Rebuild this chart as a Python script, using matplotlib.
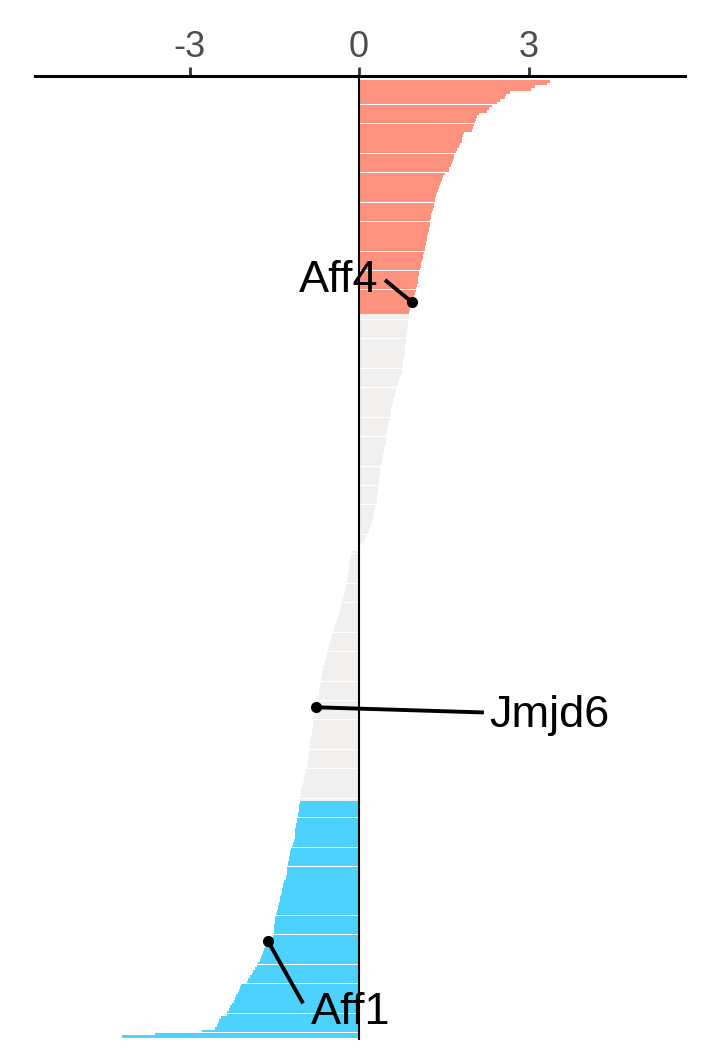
import matplotlib.pyplot as plt
import numpy as np

plt.rcParams['font.family'] = ['Liberation Sans', 'DejaVu Sans']

# sorted scores, top to bottom
up_scores = [
    3.38, 3.33, 3.12, 3.04, 2.67, 2.61, 2.58, 2.50, 2.44, 2.36,
    2.30, 2.26, 2.12, 2.08, 2.07, 2.05, 2.04, 2.02, 2.00, 1.86,
    1.84, 1.83, 1.82, 1.79, 1.77, 1.74, 1.71, 1.69, 1.68, 1.67,
    1.64, 1.62, 1.60, 1.59, 1.52, 1.49, 1.47, 1.45, 1.43, 1.42,
    1.40, 1.38, 1.36, 1.35, 1.34, 1.33, 1.32, 1.31, 1.29, 1.28,
    1.27, 1.26, 1.26, 1.25, 1.24, 1.23, 1.22, 1.21, 1.20, 1.19,
    1.18, 1.17, 1.16, 1.15, 1.14, 1.13, 1.11, 1.10, 1.09, 1.08,
    1.07, 1.06, 1.05, 1.05, 1.04, 1.03, 1.01, 1.00, 0.99, 0.97,
    0.95, 0.93, 0.92, 0.91, 0.90, 0.89,
]
mid_scores = [
    0.88, 0.88, 0.87, 0.87, 0.86, 0.86, 0.85, 0.85, 0.84, 0.83,
    0.83, 0.82, 0.82, 0.81, 0.81, 0.80, 0.79, 0.78, 0.78, 0.77,
    0.76, 0.76, 0.74, 0.72, 0.71, 0.69, 0.67, 0.66, 0.65, 0.64,
    0.63, 0.61, 0.60, 0.58, 0.57, 0.56, 0.56, 0.55, 0.54, 0.53,
    0.52, 0.51, 0.49, 0.49, 0.48, 0.48, 0.47, 0.47, 0.46, 0.45,
    0.44, 0.43, 0.42, 0.41, 0.40, 0.39, 0.38, 0.37, 0.37, 0.36,
    0.36, 0.35, 0.35, 0.34, 0.33, 0.33, 0.32, 0.32, 0.31, 0.31,
    0.30, 0.29, 0.27, 0.26, 0.25, 0.24, 0.23, 0.22, 0.20, 0.18,
    0.16, 0.13, 0.10, 0.07, 0.04, 0.02, -0.04, -0.13, -0.14, -0.15,
    -0.16, -0.17, -0.17, -0.18, -0.18, -0.19, -0.20, -0.21, -0.22, -0.23,
    -0.24, -0.25, -0.26, -0.27, -0.29, -0.30, -0.31, -0.32, -0.33, -0.34,
    -0.35, -0.37, -0.39, -0.41, -0.42, -0.44, -0.46, -0.47, -0.49, -0.50,
    -0.52, -0.53, -0.54, -0.55, -0.56, -0.57, -0.59, -0.60, -0.61, -0.63,
    -0.64, -0.65, -0.66, -0.67, -0.68, -0.68, -0.69, -0.70, -0.71, -0.71,
    -0.72, -0.73, -0.74, -0.75, -0.76, -0.77, -0.78, -0.80, -0.80, -0.81,
    -0.82, -0.82, -0.83, -0.83, -0.84, -0.85, -0.85, -0.86, -0.87, -0.87,
    -0.88, -0.88, -0.89, -0.90, -0.90, -0.91, -0.92, -0.93, -0.94, -0.96,
    -0.97, -0.98, -1.00, -1.01, -1.02, -1.03, -1.03, -1.04, -1.05,
]
down_scores = [
    -1.05, -1.06, -1.06, -1.07, -1.08, -1.08, -1.09, -1.09, -1.11, -1.12,
    -1.13, -1.13, -1.14, -1.14, -1.15, -1.16, -1.19, -1.21, -1.22, -1.23,
    -1.24, -1.24, -1.25, -1.26, -1.27, -1.28, -1.28, -1.29, -1.30, -1.32,
    -1.34, -1.35, -1.36, -1.37, -1.38, -1.39, -1.40, -1.41, -1.43, -1.44,
    -1.46, -1.47, -1.48, -1.48, -1.49, -1.50, -1.50, -1.51, -1.51, -1.52,
    -1.55, -1.61, -1.64, -1.66, -1.68, -1.70, -1.71, -1.73, -1.75, -1.78,
    -1.81, -1.84, -1.87, -1.90, -1.93, -1.96, -1.99, -2.08, -2.10, -2.13,
    -2.15, -2.17, -2.19, -2.22, -2.25, -2.28, -2.31, -2.33, -2.34, -2.45,
    -2.47, -2.50, -2.52, -2.55, -2.78, -3.61, -4.19,
]

# highlighted genes: name, rank (0 = top)
label_names = ["Aff4", "Jmjd6", "Aff1"]
label_ranks = [81, 230, 316]

group_colors = ["#FF927F", "#F1F0EE", "#4DD1FF"]

scores = up_scores + mid_scores + down_scores
groups = [0] * len(up_scores) + [1] * len(mid_scores) + [2] * len(down_scores)
colors = [group_colors[g] for g in groups]
ranks = np.arange(len(scores))

fig = plt.figure(figsize=(7.08, 10.62), dpi=100)
ax = fig.add_axes([35 / 708, 1 - 1040 / 1062, 650 / 708, (1040 - 76) / 1062])

ax.barh(ranks, scores, height=0.96, color=colors, linewidth=0, antialiased=False)
ax.axvline(0, color="black", lw=1.5)

ax.set_xlim(-5.735, 5.77)
ax.set_ylim(len(scores) - 0.5 + 0.75, -1.97)

# labels with leader lines
text_pos = [(0.34, 77.4, "right"), (2.30, 237.4, "left"), (-0.86, 346.2, "left")]
line_end = [(0.46, 73.0), (2.21, 231.9), (-0.99, 338.8)]
for name, r, (tx, ty, ha), (lx, ly) in zip(label_names, label_ranks, text_pos, line_end):
    v = scores[r]
    ax.plot([v, lx], [r, ly], color="black", lw=2.8, solid_capstyle="butt")
    ax.plot(v, r, "o", color="black", ms=7)
    ax.text(tx, ty, name, ha=ha, va="baseline", fontsize=32.5, color="black")

ax.xaxis.tick_top()
ax.set_xticks([-3, 0, 3])
ax.set_xticklabels(["-3", "0", "3"])
ax.tick_params(axis="x", length=6.5, width=2, color="#333333", labelsize=26,
               labelcolor="#4D4D4D", pad=1.5)
ax.set_yticks([])
for side in ["left", "right", "bottom"]:
    ax.spines[side].set_visible(False)
ax.spines["top"].set_linewidth(2.2)
ax.spines["top"].set_color("black")
ax.patch.set_visible(False)

fig.savefig("out.png", dpi=100)
